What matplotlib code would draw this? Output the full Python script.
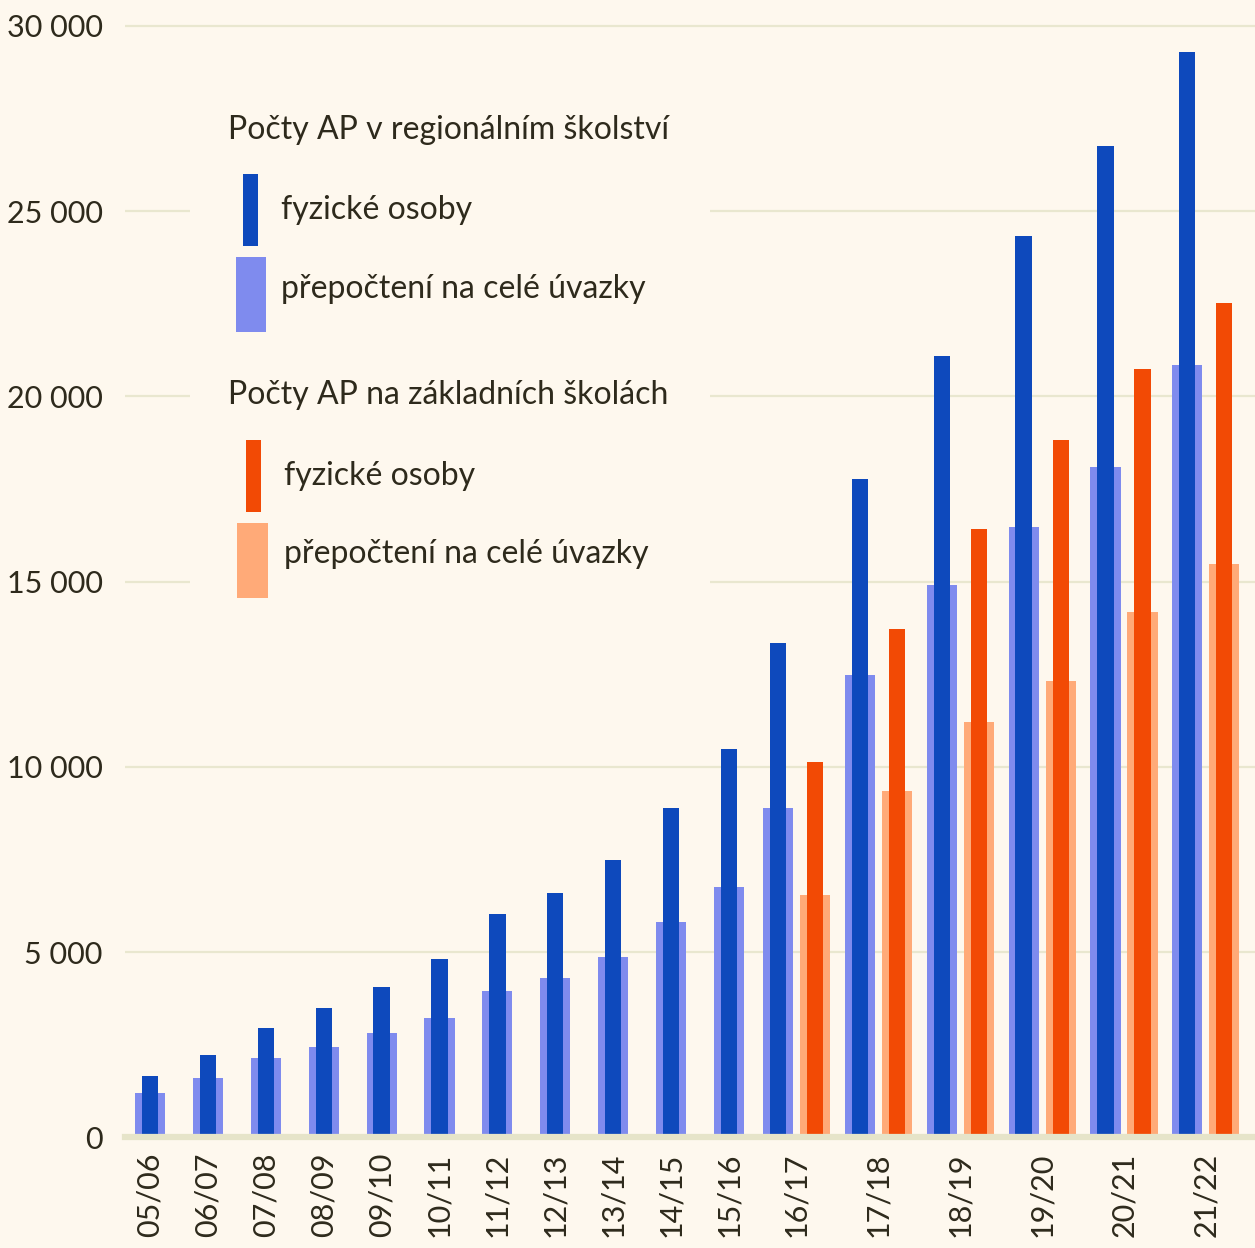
import numpy as np
import matplotlib
matplotlib.use("Agg")
import matplotlib.pyplot as plt
from matplotlib.patches import Rectangle
from matplotlib.ticker import FuncFormatter

plt.rcParams['font.family'] = ['Lato', 'DejaVu Sans']

# school years
years = ['05/06', '06/07', '07/08', '08/09', '09/10', '10/11', '11/12', '12/13',
         '13/14', '14/15', '15/16', '16/17', '17/18', '18/19', '19/20', '20/21', '21/22']
# AP in regional schooling
reg_fyz = [1650, 2210, 2940, 3500, 4050, 4800, 6035, 6595, 7495, 8890, 10470,
           13330, 17765, 21080, 24320, 26750, 29280]
reg_uv = [1200, 1590, 2150, 2430, 2820, 3220, 3955, 4297, 4855, 5810, 6755,
          8900, 12485, 14910, 16475, 18100, 20850]
# AP in elementary schools (from 16/17)
zs_years = ['16/17', '17/18', '18/19', '19/20', '20/21', '21/22']
zs_fyz = [10125, 13720, 16420, 18830, 20730, 22530]
zs_uv = [6540, 9340, 11200, 12315, 14170, 15460]

BG = '#FEF8EE'
GRID = '#E9E7CF'
TXT = '#2E2A1C'
DARK_BLUE = '#0E49BC'
LIGHT_BLUE = '#7F8BEE'
DARK_ORANGE = '#F24A05'
LIGHT_ORANGE = '#FFAA78'

W_WIDE = 0.52
W_NARROW = 0.28
PAIR_OFF = 0.32
FS = 23      # legend text
FS_TICK = 22

# group centers: single groups step 1, paired groups wider spacing
n_single = len(years) - len(zs_years)
centers = np.concatenate([np.arange(n_single),
                          11.166 + 1.414 * np.arange(len(zs_years))])
blue_x = centers.copy()
blue_x[n_single:] -= PAIR_OFF
orange_x = centers[n_single:] + PAIR_OFF

fig = plt.figure(figsize=(12.55, 12.48), dpi=100, facecolor=BG)
ax = fig.add_axes([125 / 1255, 1 - 1137.3 / 1248, 1130 / 1255, 1137.3 / 1248])
ax.set_facecolor(BG)

ax.bar(blue_x, reg_uv, width=W_WIDE, color=LIGHT_BLUE, zorder=2)
ax.bar(blue_x, reg_fyz, width=W_NARROW, color=DARK_BLUE, zorder=3)
ax.bar(orange_x, zs_uv, width=W_WIDE, color=LIGHT_ORANGE, zorder=2)
ax.bar(orange_x, zs_fyz, width=W_NARROW, color=DARK_ORANGE, zorder=3)

ax.set_xlim(-0.432, 19.085)
ax.set_ylim(0, 30695)
ax.set_yticks(np.arange(0, 30001, 5000))
ax.yaxis.set_major_formatter(FuncFormatter(lambda v, p: f"{int(v):,}".replace(",", " ")))
ax.set_xticks(centers)
ax.set_xticklabels(years, rotation=90, va='top', ha='center')
ax.tick_params(axis='both', length=0, labelsize=FS_TICK, colors=TXT)
ax.tick_params(axis='y', pad=16)
ax.tick_params(axis='x', pad=11)

ax.set_axisbelow(True)
ax.yaxis.grid(True, color=GRID, linewidth=1.6)
for s in ['top', 'right', 'left']:
    ax.spines[s].set_visible(False)
ax.spines['bottom'].set_color('#E6E4C9')
ax.spines['bottom'].set_linewidth(4.5)
ax.spines['bottom'].set_zorder(4)

# legend panel hides gridlines behind it
ax.add_patch(Rectangle(((190 - 125) / 1130, 1 - 640 / 1137.3),
                       520 / 1130, 580 / 1137.3, transform=ax.transAxes,
                       facecolor=BG, edgecolor='none', zorder=1))


def fx(px):
    return px / 1255


def fy(py):
    return 1 - py / 1248


def swatch(x0, y0, x1, y1, color):
    fig.patches.append(Rectangle((fx(x0), fy(y1)), fx(x1) - fx(x0), fy(y0) - fy(y1),
                                 transform=fig.transFigure, facecolor=color,
                                 edgecolor='none', zorder=5))


fig.text(fx(228), fy(130), 'Počty AP v regionálním školství', fontsize=FS,
         color=TXT, va='center', ha='left')
swatch(243, 174, 258, 246, DARK_BLUE)
fig.text(fx(281), fy(210), 'fyzické osoby', fontsize=FS, color=TXT, va='center')
swatch(236, 257, 266, 332, LIGHT_BLUE)
fig.text(fx(281), fy(289), 'přepočtení na celé úvazky', fontsize=FS, color=TXT, va='center')

fig.text(fx(228), fy(395), 'Počty AP na základních školách', fontsize=FS,
         color=TXT, va='center', ha='left')
swatch(246, 440, 261, 512, DARK_ORANGE)
fig.text(fx(284), fy(476), 'fyzické osoby', fontsize=FS, color=TXT, va='center')
swatch(237, 523, 268, 598, LIGHT_ORANGE)
fig.text(fx(284), fy(554), 'přepočtení na celé úvazky', fontsize=FS, color=TXT, va='center')

fig.savefig('out.png', dpi=100, facecolor=BG)
